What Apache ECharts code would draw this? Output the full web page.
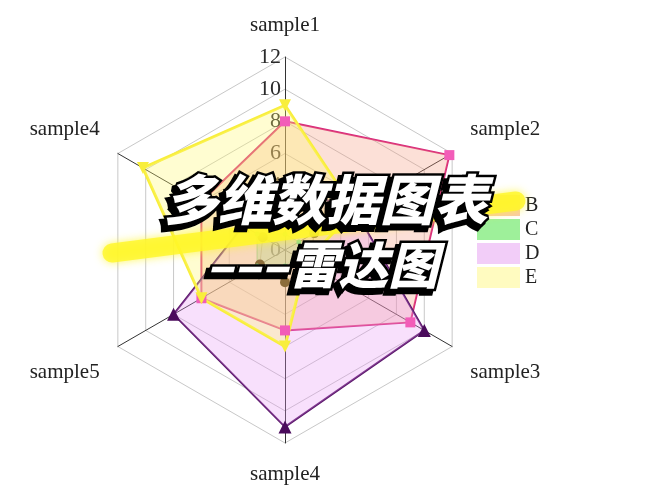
<!DOCTYPE html>
<html><head><meta charset="utf-8">
<script src="https://cdn.jsdelivr.net/npm/echarts@6/dist/echarts.min.js"></script>
<style>html,body{margin:0;padding:0;background:#fff}#c{width:672px;height:500px}</style>
</head><body><div id="c"></div>
<script>
// Axes listed clockwise starting from the top
const axisNames = ['sample1', 'sample2', 'sample3', 'sample4', 'sample5', 'sample4'];
const tickValues = [0, 2, 4, 6, 8, 10, 12];
const legendNames = ['B', 'C', 'D', 'E'];
// values per axis, same clockwise order as axisNames
const valuesA = [2, 2.1, 1.8, 2, 1.8, 1.6];
const valuesB = [8, 11.8, 9, 5, 6, 6];
const valuesC = [1, 1, 0.8, 1, 2, 2];
const valuesD = [4, 5, 10, 11, 8, 3];
const valuesE = [9, 5, 1.5, 6, 6, 10.2];

// ECharts lays radar indicators counter-clockwise; reorder to show clockwise
const order = [0, 5, 4, 3, 2, 1];
const ro = arr => order.map(i => arr[i]);
// vertical placement class of each (reordered) axis name
const namePos = ['mid', 'up', 'down', 'mid', 'down', 'up'];

const serif = '"Liberation Serif", "DejaVu Serif", serif';
const tMin = tickValues[0], tMax = tickValues[tickValues.length - 1];

const indicator = ro(axisNames).map((n, i) => {
  const o = { name: n, min: tMin, max: tMax, pos: namePos[i] };
  if (i === 0) o.axisLabel = { show: true };
  return o;
});

const chart = echarts.init(document.getElementById('c'));
const titleFont1 = 'italic 900 54px "Noto Sans CJK SC"';
const titleFont2 = 'italic 900 50px "Noto Sans CJK SC"';
const nameStyle = { color: '#222', fontFamily: serif, fontSize: 21 };
chart.setOption({
  animation: false,
  backgroundColor: '#fff',
  legend: {
    orient: 'vertical', left: 472, top: 190,
    itemWidth: 43, itemHeight: 21, itemGap: 3, icon: 'rect',
    textStyle: { fontFamily: serif, fontSize: 20, color: '#222' },
    data: [
      { name: legendNames[0], itemStyle: { color: '#f9c9aa', borderWidth: 0 } },
      { name: legendNames[1], itemStyle: { color: '#9ef09a', borderWidth: 0 } },
      { name: legendNames[2], itemStyle: { color: '#f2cdf8', borderWidth: 0 } },
      { name: legendNames[3], itemStyle: { color: '#fffbc0', borderWidth: 0 } }
    ]
  },
  radar: {
    center: [285, 250], radius: 193, startAngle: 90, shape: 'polygon',
    splitNumber: tickValues.length - 1, nameGap: 21,
    axisName: Object.assign({}, nameStyle, {
      formatter: (name, ind) => ind && ind.pos && ind.pos !== 'mid' ? '{' + ind.pos + '|' + name + '}' : name,
      rich: {
        up: Object.assign({}, nameStyle, { padding: [0, 0, 27, 0] }),
        down: Object.assign({}, nameStyle, { padding: [31, 0, 0, 0] })
      }
    }),
    indicator: indicator,
    axisLabel: { show: false, color: '#2a2a2a', fontFamily: serif, fontSize: 22, margin: 4 },
    axisTick: { show: false },
    axisLine: { lineStyle: { color: '#333', width: 1 } },
    splitLine: { lineStyle: { color: '#c8c8c8', width: 1 } },
    splitArea: { show: false }
  },
  series: [
    { type: 'radar', name: 'A', symbol: 'circle', symbolSize: 10,
      lineStyle: { color: '#8c6d3a', width: 1, opacity: 0.6 },
      itemStyle: { color: '#8c6d3a' },
      data: [{ name: 'A', value: ro(valuesA) }] },
    { type: 'radar', name: 'B', symbol: 'rect', symbolSize: 10,
      lineStyle: { color: '#d8287c', width: 2 },
      itemStyle: { color: '#f25cb8' },
      areaStyle: { color: 'rgba(244,150,120,0.42)' },
      data: [{ name: 'B', value: ro(valuesB) }] },
    { type: 'radar', name: 'C', symbol: 'circle', symbolSize: 5,
      lineStyle: { color: '#8fd88a', width: 1 },
      itemStyle: { color: '#8fd88a' },
      areaStyle: { color: 'rgba(140,220,120,0.6)' },
      data: [{ name: 'C', value: ro(valuesC) }] },
    { type: 'radar', name: 'D', symbol: 'triangle', symbolSize: 13,
      lineStyle: { color: '#5a176a', width: 2 },
      itemStyle: { color: '#4b0b5c' },
      areaStyle: { color: 'rgba(232,150,245,0.42)' },
      data: [{ name: 'D', value: ro(valuesD) }] },
    { type: 'radar', name: 'E', symbol: 'triangle', symbolRotate: 180, symbolSize: 12,
      lineStyle: { color: '#f8ee3c', width: 3 },
      itemStyle: { color: '#f8ee3c' },
      areaStyle: { color: 'rgba(255,250,110,0.45)' },
      data: [{ name: 'E', value: ro(valuesE) }] }
  ],
  graphic: [
    { type: 'line', z: 50, silent: true,
      shape: { x1: 112, y1: 253, x2: 516, y2: 201 },
      style: { stroke: 'rgba(255,246,40,0.82)', lineWidth: 19, lineCap: 'round',
               shadowBlur: 8, shadowColor: 'rgba(255,246,40,0.9)' } },
    { type: 'text', z: 60, silent: true,
      style: { text: '多维数据图表', x: 322, y: 203, font: titleFont1, fill: '#000',
               stroke: '#000', lineWidth: 6, align: 'center', verticalAlign: 'middle' } },
    { type: 'text', z: 61, silent: true,
      style: { text: '多维数据图表', x: 326, y: 199, font: titleFont1, fill: '#fff',
               stroke: '#000', lineWidth: 5, strokeFirst: true, align: 'center', verticalAlign: 'middle' } },
    { type: 'text', z: 60, silent: true,
      style: { text: '–––雷达图', x: 318, y: 269, font: titleFont2, fill: '#000',
               stroke: '#000', lineWidth: 6, align: 'center', verticalAlign: 'middle' } },
    { type: 'text', z: 61, silent: true,
      style: { text: '–––雷达图', x: 322, y: 265, font: titleFont2, fill: '#fff',
               stroke: '#000', lineWidth: 5, strokeFirst: true, align: 'center', verticalAlign: 'middle' } }
  ]
});
</script></body></html>
